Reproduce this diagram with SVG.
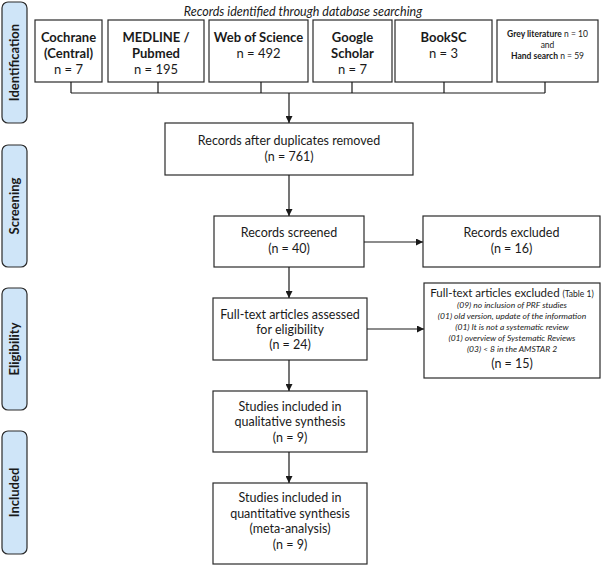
<svg xmlns="http://www.w3.org/2000/svg" width="605" height="566" viewBox="0 0 605 566">
<style>
text{font-family:Lato,"Open Sans","Liberation Sans",sans-serif;fill:#1a1a1a;text-anchor:middle}
.box{fill:#fff;stroke:#2a2a2a;stroke-width:1.2}
.side{fill:#cfe5f8;stroke:#2a2a2a;stroke-width:1.2}
.sl{font-size:13px;font-weight:bold}
.b{font-size:13px;font-weight:bold}
.r{font-size:13px}
.m{font-size:12.5px}
.s{font-size:8.5px}
.i{font-size:8.5px;font-style:italic}
.ln{fill:none;stroke:#1a1a1a;stroke-width:1.2}
</style>
<defs>
<marker id="ah" viewBox="0 0 10 10" refX="10" refY="5" markerWidth="7" markerHeight="7" orient="auto" markerUnits="userSpaceOnUse">
<path d="M0,0 L10,5 L0,10 z" fill="#1a1a1a"/>
</marker>
</defs>
<g id="phase-identification"><rect class="side" x="2" y="2" width="25" height="121" rx="6"/><text class="sl" transform="translate(19,62.5) rotate(-90)">Identification</text></g>
<g id="phase-screening"><rect class="side" x="2" y="145" width="25" height="122" rx="6"/><text class="sl" transform="translate(19,206) rotate(-90)">Screening</text></g>
<g id="phase-eligibility"><rect class="side" x="2" y="288" width="25" height="122" rx="6"/><text class="sl" transform="translate(19,349) rotate(-90)">Eligibility</text></g>
<g id="phase-included"><rect class="side" x="2" y="431" width="25" height="123" rx="6"/><text class="sl" transform="translate(19,492.5) rotate(-90)">Included</text></g>
<g id="title"><text class="m" x="303" y="16" font-style="italic">Records identified through database searching</text></g>
<g id="cochrane"><rect class="box" x="35" y="20" width="67" height="62"/><text class="b" x="68.5" y="42">Cochrane</text><text class="b" x="68.5" y="58">(Central)</text><text class="r" x="68.5" y="74">n = 7</text></g>
<g id="medline"><rect class="box" x="108" y="20" width="96" height="62"/><text class="b" x="156" y="42">MEDLINE /</text><text class="b" x="156" y="58">Pubmed</text><text class="r" x="156" y="74">n = 195</text></g>
<g id="wos"><rect class="box" x="209" y="20" width="99" height="62"/><text class="b" x="258.5" y="42">Web of Science</text><text class="r" x="258.5" y="58">n = 492</text></g>
<g id="google"><rect class="box" x="313" y="20" width="79" height="62"/><text class="b" x="352.5" y="42">Google</text><text class="b" x="352.5" y="58">Scholar</text><text class="r" x="352.5" y="74">n = 7</text></g>
<g id="booksc"><rect class="box" x="395" y="20" width="97" height="62"/><text class="b" x="443.5" y="42">BookSC</text><text class="r" x="443.5" y="58">n = 3</text></g>
<g id="grey"><rect class="box" x="497" y="20" width="101" height="62"/><text class="s" x="547.5" y="37"><tspan font-weight="bold">Grey literature</tspan> n = 10</text><text class="s" x="547.5" y="48">and</text><text class="s" x="547.5" y="59"><tspan font-weight="bold">Hand search</tspan> n = 59</text></g>
<g id="dedup"><rect class="box" x="165" y="123" width="248" height="52"/><text class="m" x="289" y="145">Records after duplicates removed</text><text class="m" x="289" y="161">(n = 761)</text></g>
<g id="screened"><rect class="box" x="214" y="216" width="150" height="51"/><text class="m" x="289" y="237">Records screened</text><text class="m" x="289" y="253">(n = 40)</text></g>
<g id="excluded"><rect class="box" x="423" y="216" width="177" height="51"/><text class="m" x="511.5" y="237">Records excluded</text><text class="m" x="511.5" y="253">(n = 16)</text></g>
<g id="fulltext"><rect class="box" x="213" y="298" width="154" height="62"/><text class="m" x="290" y="319">Full-text articles assessed</text><text class="m" x="290" y="334">for eligibility</text><text class="m" x="290" y="349">(n = 24)</text></g>
<g id="ftexcluded"><rect class="box" x="424" y="283" width="176" height="95"/><text x="512" y="297" font-size="11.5px">Full-text articles excluded <tspan font-size="8.5px">(Table 1)</tspan></text><text class="i" x="512" y="308">(09) no inclusion of PRF studies</text><text class="i" x="512" y="319">(01) old version, update of the information</text><text class="i" x="512" y="330">(01) It is not a systematic review</text><text class="i" x="512" y="341">(01) overview of Systematic Reviews</text><text class="i" x="512" y="352">(03) &lt; 8 in the AMSTAR 2</text><text class="m" x="512" y="368">(n = 15)</text></g>
<g id="qualitative"><rect class="box" x="213" y="391" width="154" height="61"/><text class="m" x="290" y="411">Studies included in</text><text class="m" x="290" y="426">qualitative synthesis</text><text class="m" x="290" y="442">(n = 9)</text></g>
<g id="quantitative"><rect class="box" x="213" y="483" width="154" height="81"/><text class="m" x="290" y="502">Studies included in</text><text class="m" x="290" y="518">quantitative synthesis</text><text class="m" x="290" y="533">(meta-analysis)</text><text class="m" x="290" y="549">(n = 9)</text></g>
<g id="connectors">
<path class="ln" d="M71,82 V93 M158,82 V93 M261,82 V93 M352,82 V93 M444,82 V93 M545,82 V93 M71,93 H545"/>
<line class="ln" x1="289" y1="93" x2="289" y2="123" marker-end="url(#ah)"/>
<line class="ln" x1="289" y1="175" x2="289" y2="216" marker-end="url(#ah)"/>
<line class="ln" x1="364" y1="242" x2="423" y2="242" marker-end="url(#ah)"/>
<line class="ln" x1="289" y1="267" x2="289" y2="298" marker-end="url(#ah)"/>
<line class="ln" x1="367" y1="329" x2="424" y2="329" marker-end="url(#ah)"/>
<line class="ln" x1="289" y1="360" x2="289" y2="391" marker-end="url(#ah)"/>
<line class="ln" x1="289" y1="452" x2="289" y2="483" marker-end="url(#ah)"/>
</g>
</svg>
